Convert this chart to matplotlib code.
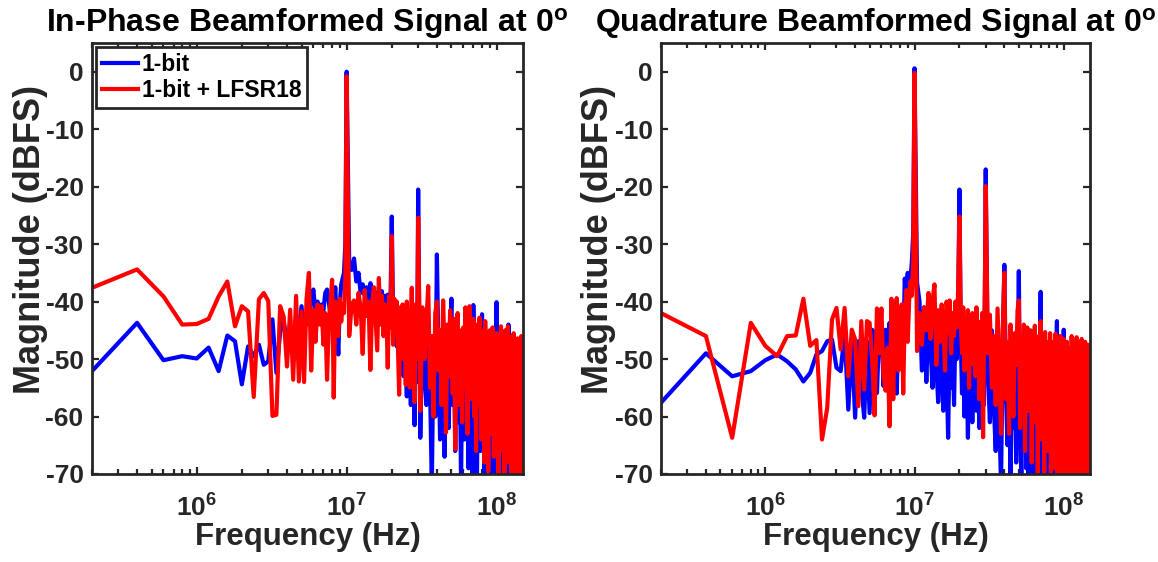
import numpy as np
import matplotlib
matplotlib.use("Agg")
import matplotlib.pyplot as plt

# ---------------- data ----------------
# FFT bin frequencies (MHz): 0.2 MHz bins up to 10 MHz, then sampled bins
freq_mhz = np.round(np.concatenate([np.arange(0.2, 10.01, 0.2),
                                    np.arange(10.4, 30.01, 0.4),
                                    np.arange(31, 150.5, 1.0)]), 1)
freq_hz = freq_mhz * 1e6

inphase_1bit = [
    -52.1, -43.7, -50.2, -49.5, -49.9, -48.0, -52.1, -45.9, -46.9, -54.4,
    -47.8, -49.5, -47.5, -51.0, -50.4, -43.1, -52.4, -45.4, -43.3, -47.2,
    -44.5, -48.0, -42.5, -46.0, -40.8, -45.5, -42.0, -44.0, -39.5, -37.9,
    -42.0, -40.0, -43.5, -40.5, -41.5, -38.5, -37.9, -40.0, -42.5, -38.0,
    -41.0, -37.5, -44.0, -49.2, -40.5, -37.0, -36.0, -35.0, -30.0, 0.0,
    # 10.4 .. 30.0
    -33.0, -34.5, -32.5, -36.5, -35.0, -38.5, -37.0, -39.0, -37.5, -40.5,
    -36.8, -38.0, -41.0, -38.5, -42.0, -37.5, -40.0, -38.2, -43.5, -39.0,
    -42.5, -38.8, -44.0, -40.5, -25.2, -42.0, -46.5, -40.0, -47.8, -41.5,
    -45.0, -50.5, -42.0, -47.0, -53.0, -43.5, -49.5, -56.5, -44.0, -52.0,
    -48.0, -58.0, -45.0, -55.0, -50.0, -61.5, -46.0, -54.0, -48.0, -20.5,
    # 31 .. 150
    -63.7, -45.0, -52.0, -58.0, -43.0, -55.0, -72.0, -47.0, -60.0, -31.8,
    -50.0, -64.0, -46.0, -57.0, -67.0, -48.0, -55.0, -62.0, -47.0, -39.5,
    -58.0, -49.0, -66.0, -52.0, -45.0, -61.0, -54.0, -72.0, -48.0, -57.0,
    -64.0, -47.0, -59.0, -52.0, -69.0, -46.0, -60.0, -55.0, -72.0, -40.6,
    -56.0, -63.0, -49.0, -72.0, -53.0, -60.0, -47.0, -66.0, -55.0, -42.2,
    -61.0, -52.0, -72.0, -49.0, -63.0, -56.0, -68.0, -50.0, -62.0, -47.0,
    -58.0, -72.0, -53.0, -65.0, -49.0, -60.0, -55.0, -72.0, -51.0, -40.1,
    -63.0, -54.0, -69.0, -50.0, -66.0, -57.0, -48.0, -72.0, -59.0, -52.0,
    -67.0, -49.0, -61.0, -72.0, -54.0, -64.0, -50.0, -58.0, -72.0, -44.0,
    -62.0, -55.0, -68.0, -51.0, -60.0, -72.0, -53.0, -65.0, -48.0, -59.0,
    -72.0, -52.0, -63.0, -56.0, -69.0, -50.0, -61.0, -72.0, -54.0, -66.0,
    -49.0, -58.0, -72.0, -53.0, -64.0, -51.0, -62.0, -72.0, -56.0, -66.0,
]

inphase_lfsr = [
    -37.6, -34.4, -39.1, -44.0, -43.9, -43.0, -39.1, -36.5, -44.3, -40.8,
    -41.7, -56.6, -39.6, -38.5, -39.9, -59.9, -59.7, -40.8, -42.6, -51.3,
    -41.4, -53.6, -39.0, -53.9, -41.7, -54.0, -39.6, -35.0, -52.0, -41.4,
    -47.0, -40.5, -44.0, -40.8, -47.5, -42.0, -53.6, -44.0, -40.0, -36.2,
    -56.7, -40.0, -42.5, -46.0, -39.5, -43.5, -40.5, -42.0, -36.0, -0.8,
    # 10.4 .. 30.0
    -46.0, -40.5, -39.8, -44.0, -38.5, -41.0, -49.1, -38.0, -42.5, -40.0,
    -51.9, -40.5, -37.5, -43.0, -48.5, -35.9, -44.0, -39.0, -46.0, -40.5,
    -42.0, -51.5, -39.0, -44.5, -28.6, -47.5, -39.5, -45.0, -40.0, -48.0,
    -56.2, -41.0, -45.0, -40.5, -50.0, -42.0, -54.5, -40.0, -47.0, -41.5,
    -55.0, -44.0, -37.6, -49.0, -43.0, -57.5, -40.5, -50.0, -44.0, -25.4,
    # 31 .. 150
    -59.0, -41.0, -50.0, -44.0, -37.3, -55.0, -46.0, -60.0, -42.0, -40.0,
    -52.0, -45.0, -58.0, -39.8, -49.0, -62.8, -44.0, -53.0, -41.5, -47.0,
    -56.0, -43.0, -65.7, -48.0, -42.0, -58.0, -45.0, -52.0, -61.0, -44.5,
    -55.0, -41.0, -50.0, -63.0, -46.0, -40.8, -57.0, -48.0, -53.0, -43.0,
    -60.0, -46.0, -66.0, -44.0, -52.0, -58.0, -42.8, -49.0, -64.0, -45.0,
    -55.0, -47.0, -68.0, -43.4, -51.0, -60.0, -46.0, -69.5, -53.0, -45.0,
    -58.0, -48.0, -63.0, -44.5, -55.0, -67.0, -47.0, -52.0, -61.0, -45.5,
    -57.0, -49.0, -70.5, -46.0, -54.0, -62.0, -44.3, -59.0, -50.0, -66.0,
    -47.0, -56.0, -71.0, -45.0, -53.0, -64.0, -48.0, -60.0, -44.3, -55.0,
    -68.0, -47.0, -58.0, -51.0, -72.0, -46.0, -61.0, -53.0, -66.0, -45.5,
    -57.0, -49.0, -71.0, -47.0, -62.0, -52.0, -69.0, -46.4, -58.0, -54.0,
    -72.0, -48.0, -63.0, -51.0, -67.0, -46.0, -60.0, -55.0, -71.0, -50.0,
]

quad_1bit = [
    -57.6, -49.0, -53.0, -52.1, -50.2, -49.2, -50.4, -51.8, -53.9, -52.4,
    -49.2, -48.6, -46.9, -46.6, -51.5, -52.1, -45.5, -58.8, -46.9, -60.2,
    -46.9, -54.7, -60.2, -46.9, -59.4, -44.9, -45.5, -55.9, -44.9, -44.3,
    -54.7, -44.9, -54.7, -43.7, -54.7, -43.1, -47.0, -56.0, -44.5, -47.5,
    -42.0, -49.5, -36.0, -38.5, -35.0, -37.5, -36.0, -33.0, -28.0, 0.6,
    # 10.4 .. 30.0
    -36.7, -40.0, -52.0, -41.0, -54.0, -42.5, -48.0, -55.0, -43.0, -51.0,
    -57.5, -44.0, -53.0, -59.0, -45.5, -52.0, -63.7, -46.0, -55.0, -49.0,
    -58.0, -44.5, -50.0, -42.0, -20.5, -46.0, -56.0, -48.0, -60.0, -45.0,
    -53.0, -63.7, -47.0, -57.0, -50.0, -61.0, -46.0, -55.0, -49.0, -59.0,
    -45.5, -52.0, -62.0, -48.0, -56.0, -43.0, -50.0, -58.0, -40.0, -17.0,
    # 31 .. 150
    -52.0, -61.0, -45.0, -58.0, -66.0, -49.0, -60.0, -72.0, -47.0, -33.6,
    -56.0, -65.0, -48.0, -72.0, -53.0, -62.0, -46.0, -68.0, -55.0, -34.7,
    -59.0, -72.0, -50.0, -64.0, -47.0, -69.0, -57.0, -72.0, -51.0, -62.0,
    -72.0, -48.0, -66.0, -55.0, -72.0, -50.0, -63.0, -72.0, -53.0, -38.3,
    -61.0, -72.0, -52.0, -67.0, -58.0, -71.0, -49.0, -64.0, -72.0, -55.0,
    -62.0, -51.0, -72.0, -58.0, -66.0, -47.0, -72.0, -60.0, -54.0, -43.4,
    -68.0, -57.0, -72.0, -50.0, -63.0, -72.0, -55.0, -66.0, -52.0, -44.9,
    -72.0, -59.0, -65.0, -51.0, -71.0, -62.0, -48.0, -67.0, -72.0, -56.0,
    -63.0, -50.0, -72.0, -58.0, -66.0, -72.0, -53.0, -61.0, -69.0, -47.0,
    -72.0, -57.0, -64.0, -52.0, -71.0, -60.0, -67.0, -49.0, -72.0, -58.0,
    -65.0, -54.0, -72.0, -61.0, -50.0, -72.0, -63.0, -56.0, -68.0, -51.0,
    -72.0, -59.0, -66.0, -53.0, -71.0, -62.0, -48.0, -72.0, -57.0, -65.0,
]

quad_lfsr = [
    -42.0, -46.0, -63.7, -43.7, -47.7, -49.5, -46.0, -45.9, -39.5, -47.7,
    -46.7, -64.0, -58.5, -43.1, -41.1, -48.3, -41.1, -53.0, -44.9, -46.6,
    -58.2, -43.4, -55.3, -43.4, -43.7, -50.0, -59.8, -41.2, -49.0, -41.2,
    -53.0, -55.5, -48.0, -61.7, -39.5, -57.0, -42.0, -39.4, -52.0, -45.0,
    -40.5, -56.0, -42.0, -38.0, -47.0, -40.0, -36.5, -39.0, -33.0, -0.2,
    # 10.4 .. 30.0
    -48.6, -42.0, -47.5, -41.0, -45.0, -38.5, -46.5, -40.0, -37.0, -51.0,
    -41.5, -47.0, -40.5, -44.0, -52.0, -40.0, -45.5, -39.8, -49.0, -42.0,
    -46.0, -40.0, -44.5, -38.0, -25.2, -42.5, -49.0, -41.0, -52.0, -43.5,
    -47.5, -41.5, -55.0, -44.0, -49.5, -42.0, -51.0, -45.0, -53.0, -41.0,
    -47.0, -43.5, -57.0, -44.5, -50.0, -42.0, -63.6, -48.0, -38.5, -19.9,
    # 31 .. 150
    -49.0, -42.3, -55.0, -46.0, -58.0, -41.2, -52.0, -63.0, -45.0, -35.0,
    -57.0, -47.0, -63.0, -44.0, -53.0, -60.0, -45.5, -51.0, -41.6, -39.8,
    -62.0, -46.0, -56.0, -44.0, -66.0, -49.0, -44.5, -59.0, -52.0, -45.0,
    -68.0, -48.0, -55.0, -44.2, -61.0, -50.0, -70.0, -46.0, -57.0, -43.4,
    -64.0, -49.0, -53.0, -71.0, -45.3, -58.0, -50.0, -66.0, -47.0, -60.0,
    -45.5, -72.0, -52.0, -63.0, -47.0, -56.0, -69.0, -45.6, -59.0, -51.0,
    -72.0, -48.0, -62.0, -54.0, -46.0, -70.0, -57.0, -49.0, -65.0, -46.5,
    -60.0, -72.0, -51.0, -58.0, -47.0, -67.0, -55.0, -72.0, -48.5, -61.0,
    -53.0, -70.0, -46.0, -59.0, -64.0, -50.0, -72.0, -47.5, -57.0, -66.0,
    -52.0, -46.2, -72.0, -60.0, -49.0, -68.0, -55.0, -47.0, -72.0, -62.0,
    -51.0, -46.5, -70.0, -58.0, -48.0, -72.0, -64.0, -53.0, -47.0, -69.0,
    -56.0, -72.0, -49.0, -62.0, -47.5, -71.0, -58.0, -52.0, -72.0, -60.0,
]

titles = [r"In-Phase Beamformed Signal at 0$^{\mathbf{o}}$",
          r"Quadrature Beamformed Signal at 0$^{\mathbf{o}}$"]
series_labels = ["1-bit", "1-bit + LFSR18"]
xlabel_text = "Frequency (Hz)"
ylabel_text = "Magnitude (dBFS)"
ytick_vals = [-70, -60, -50, -40, -30, -20, -10, 0]
xtick_vals = [1e6, 1e7, 1e8]
xtick_labels = [r"$\mathbf{10^{6}}$", r"$\mathbf{10^{7}}$", r"$\mathbf{10^{8}}$"]

# ---------------- style ----------------
plt.rcParams["font.family"] = ["Liberation Sans", "DejaVu Sans"]
plt.rcParams["font.weight"] = "bold"
plt.rcParams["axes.unicode_minus"] = False
plt.rcParams["mathtext.fontset"] = "custom"
plt.rcParams["mathtext.bf"] = "Liberation Sans:bold"
plt.rcParams["mathtext.rm"] = "Liberation Sans:bold"
plt.rcParams["mathtext.it"] = "Liberation Sans:bold"

AX_COLOR = "#262626"

fig = plt.figure(figsize=(11.58, 5.62), dpi=100)
positions = [[0.0794, 0.1566, 0.3722, 0.7669],
             [0.5708, 0.1566, 0.3705, 0.7669]]
data = [(inphase_1bit, inphase_lfsr), (quad_1bit, quad_lfsr)]

for i, (pos, (b, r)) in enumerate(zip(positions, data)):
    ax = fig.add_axes(pos)
    ax.plot(freq_hz, b, color="#0000FF", lw=3.0, label=series_labels[0])
    ax.plot(freq_hz, r, color="#FF0000", lw=3.0, label=series_labels[1])
    ax.set_xscale("log")
    ax.set_xlim(2e5, 1.5e8)
    ax.set_ylim(-70, 5)
    ax.set_yticks(ytick_vals)
    ax.set_yticklabels([str(v) for v in ytick_vals])
    ax.set_xticks(xtick_vals)
    ax.set_xticklabels(xtick_labels)
    ax.tick_params(which="both", direction="in", top=True, right=True,
                   colors=AX_COLOR, width=1.6)
    ax.tick_params(which="major", length=5, labelsize=19, pad=6)
    ax.tick_params(axis="x", which="major", labelsize=19, pad=15)
    ax.tick_params(which="minor", length=3.5)
    for s in ax.spines.values():
        s.set_color(AX_COLOR)
        s.set_linewidth(2.0)
    ax.set_title(titles[i], fontsize=23, fontweight="bold", color="black", pad=8)
    ax.set_xlabel(xlabel_text, fontsize=22.5, fontweight="bold", color=AX_COLOR, labelpad=0)
    ax.set_ylabel(ylabel_text, fontsize=26, fontweight="bold", color=AX_COLOR, labelpad=0)
    ax.yaxis.set_label_coords(-0.102 if i == 0 else -0.105, 0.545)
    if i == 0:
        leg = ax.legend(loc="upper left", bbox_to_anchor=(0.009, 0.99),
                        borderaxespad=0, fontsize=16.5, frameon=True,
                        fancybox=False, framealpha=1, edgecolor=AX_COLOR,
                        handlelength=1.6, handletextpad=0.15,
                        labelspacing=0.15, borderpad=0.25)
        leg.get_frame().set_linewidth(2.0)
        for t in leg.get_texts():
            t.set_color("black")

fig.savefig("out.png", dpi=100)
